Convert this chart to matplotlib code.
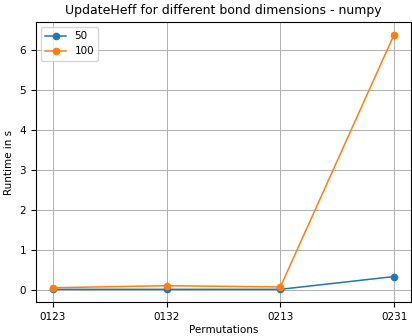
import matplotlib.pyplot as plt

perms = ['0123', '0132', '0213', '0231']
t_50 = [0.01, 0.01, 0.01, 0.33]
t_100 = [0.05, 0.10, 0.07, 6.38]

plt.rcParams['font.size'] = 7.5

fig = plt.figure(figsize=(4.12, 3.36), dpi=100)
ax = fig.add_axes([0.087, 0.101, 0.911, 0.834])
ax.plot(perms, t_50, 'o-', lw=1.1, ms=4.5, label='50')
ax.plot(perms, t_100, 'o-', lw=1.1, ms=4.5, label='100')
ax.set_title('UpdateHeff for different bond dimensions - numpy', fontsize=9)
ax.set_xlabel('Permutations', labelpad=2)
ax.set_ylabel('Runtime in s')
ax.grid(True, lw=0.7)
ax.legend(loc='upper left')

fig.savefig('out.png', dpi=100)
